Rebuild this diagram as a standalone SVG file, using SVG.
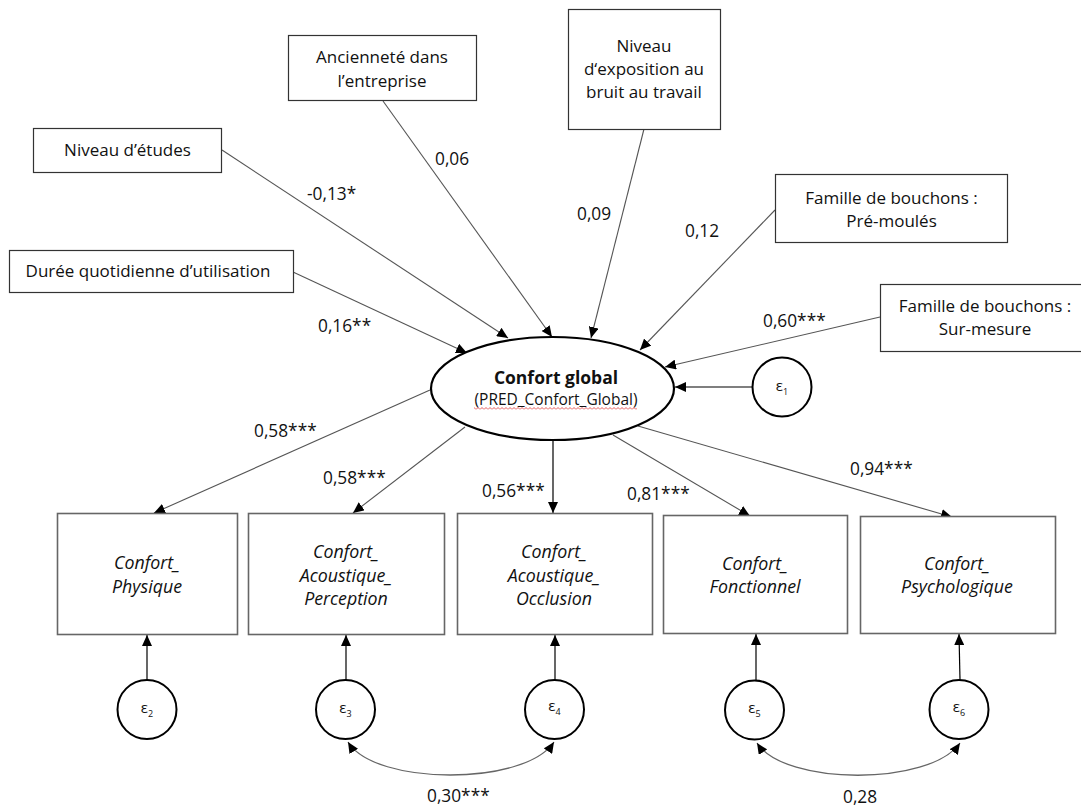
<svg xmlns="http://www.w3.org/2000/svg" width="1081" height="807" viewBox="0 0 1081 807">
<style>
text{font-family:"Open Sans","Noto Sans","Liberation Sans",sans-serif;fill:#111}
.bt{font-size:17px;text-anchor:middle}
.it{font-size:17.8px;text-anchor:middle;font-style:italic}
.lb{font-size:17.3px}
.box{fill:#fff;stroke:#333;stroke-width:1.2}
.obox{fill:#fff;stroke:#666;stroke-width:1.6}
.err{fill:#fff;stroke:#000;stroke-width:2}
.eps{font-size:15px;text-anchor:middle}
.c{fill:none;stroke:#555;stroke-width:1.1;marker-end:url(#ah)}
.v{fill:none;stroke:#000;stroke-width:1.2;marker-end:url(#ah)}
.cv{fill:none;stroke:#666;stroke-width:1.3;marker-end:url(#ah);marker-start:url(#ah)}
</style>
<defs>
<marker id="ah" markerUnits="userSpaceOnUse" markerWidth="12" markerHeight="10" refX="11" refY="5" orient="auto-start-reverse" viewBox="0 0 12 10">
<path d="M0,0 L11,5 L0,10 z" fill="#000"/>
</marker>
<pattern id="wave" patternUnits="userSpaceOnUse" x="0" y="407" width="4" height="3">
<path d="M0,2.5 L2,0.5 L4,2.5" fill="none" stroke="#e03030" stroke-width="0.8"/>
</pattern>
</defs>

<g id="connectors">
<line class="c" x1="293" y1="272" x2="467" y2="353"/>
<line class="c" x1="222" y1="150" x2="508" y2="338"/>
<line class="c" x1="383" y1="101" x2="552" y2="337"/>
<line class="c" x1="644" y1="129" x2="591" y2="338"/>
<line class="c" x1="775" y1="210" x2="640" y2="350"/>
<line class="c" x1="880" y1="317" x2="665" y2="367"/>
<line class="v" x1="752" y1="387" x2="675" y2="387"/>
<line class="c" x1="430" y1="390" x2="154" y2="513"/>
<line class="c" x1="465" y1="427" x2="353" y2="513"/>
<line class="v" x1="553" y1="440" x2="553" y2="513"/>
<line class="c" x1="613" y1="435" x2="750" y2="516"/>
<line class="c" x1="638" y1="426" x2="952" y2="517"/>
<line class="v" x1="147" y1="680" x2="147" y2="635"/>
<line class="v" x1="346" y1="680" x2="346" y2="635"/>
<line class="v" x1="555" y1="680" x2="555" y2="635"/>
<line class="v" x1="756" y1="680" x2="756" y2="634"/>
<line class="v" x1="960" y1="680" x2="959" y2="634"/>
<path class="cv" d="M348,742 C375,786 525,786 554,742"/>
<path class="cv" d="M757,743 C785,786 930,786 960,743"/>
<g id="coef">
<text class="lb" x="307" y="200">-0,13*</text>
<text class="lb" x="435" y="165">0,06</text>
<text class="lb" x="577" y="220">0,09</text>
<text class="lb" x="685" y="237">0,12</text>
<text class="lb" x="318" y="332">0,16**</text>
<text class="lb" x="763" y="327">0,60***</text>
<text class="lb" x="254" y="437">0,58***</text>
<text class="lb" x="323" y="484">0,58***</text>
<text class="lb" x="482" y="497">0,56***</text>
<text class="lb" x="627" y="500">0,81***</text>
<text class="lb" x="850" y="475">0,94***</text>
<text class="lb" x="427" y="802">0,30***</text>
<text class="lb" x="843" y="803">0,28</text>
</g>
</g>

<g id="n-etudes">
<rect class="box" x="33.5" y="128.5" width="188" height="44"/>
<text class="bt" x="127.5" y="156">Niveau d’études</text>
</g>
<g id="n-duree">
<rect class="box" x="9.5" y="250.5" width="284" height="42"/>
<text class="bt" x="148" y="277">Durée quotidienne d’utilisation</text>
</g>
<g id="n-anciennete">
<rect class="box" x="288.5" y="35.5" width="188" height="65"/>
<text class="bt" x="382" y="63">Ancienneté dans</text>
<text class="bt" x="382" y="87">l’entreprise</text>
</g>
<g id="n-exposition">
<rect class="box" x="568.5" y="9.5" width="152" height="120"/>
<text class="bt" x="644" y="52">Niveau</text>
<text class="bt" x="644" y="75">d‘exposition au</text>
<text class="bt" x="644" y="98">bruit au travail</text>
</g>
<g id="n-premoules">
<rect class="box" x="775.5" y="174.5" width="232" height="68"/>
<text class="bt" x="891.5" y="204">Famille de bouchons :</text>
<text class="bt" x="891.5" y="227">Pré-moulés</text>
</g>
<g id="n-surmesure">
<rect class="box" x="880.5" y="284.5" width="210" height="67"/>
<text class="bt" x="985" y="312">Famille de bouchons :</text>
<text class="bt" x="985" y="335">Sur-mesure</text>
</g>

<g id="n-confort-global">
<ellipse cx="552.5" cy="388.5" rx="121.5" ry="51.5" fill="#fff" stroke="#000" stroke-width="2.2"/>
<text x="556" y="384" text-anchor="middle" font-size="17.5" font-weight="bold">Confort global</text>
<text x="556" y="405" text-anchor="middle" font-size="15.5">(PRED_Confort_Global)</text>
<rect x="474" y="407" width="163" height="3" fill="url(#wave)"/>
</g>

<g id="n-e1">
<circle class="err" cx="782" cy="387" r="29.5"/>
<text class="eps" x="782" y="391">ε<tspan font-size="9" dy="4">1</tspan></text>
</g>

<g id="n-physique">
<rect class="obox" x="57.5" y="513.5" width="180" height="121"/>
<text class="it" x="147" y="569">Confort_</text>
<text class="it" x="147" y="593">Physique</text>
</g>
<g id="n-perception">
<rect class="obox" x="248.5" y="513.5" width="196" height="121"/>
<text class="it" x="346" y="558">Confort_</text>
<text class="it" x="346" y="582">Acoustique_</text>
<text class="it" x="346" y="605">Perception</text>
</g>
<g id="n-occlusion">
<rect class="obox" x="457.5" y="513.5" width="195" height="121"/>
<text class="it" x="554" y="558">Confort_</text>
<text class="it" x="554" y="582">Acoustique_</text>
<text class="it" x="554" y="605">Occlusion</text>
</g>
<g id="n-fonctionnel">
<rect class="obox" x="663.5" y="515.5" width="184" height="118"/>
<text class="it" x="755" y="570">Confort_</text>
<text class="it" x="755" y="593">Fonctionnel</text>
</g>
<g id="n-psychologique">
<rect class="obox" x="860.5" y="516.5" width="195" height="117"/>
<text class="it" x="957" y="570">Confort_</text>
<text class="it" x="957" y="593">Psychologique</text>
</g>

<g id="n-e2">
<circle class="err" cx="147" cy="709.5" r="29.5"/>
<text class="eps" x="147" y="713">ε<tspan font-size="9" dy="4">2</tspan></text>
</g>
<g id="n-e3">
<circle class="err" cx="345.5" cy="709.5" r="29.5"/>
<text class="eps" x="345.5" y="713">ε<tspan font-size="9" dy="4">3</tspan></text>
</g>
<g id="n-e4">
<circle class="err" cx="554.5" cy="709.5" r="29.5"/>
<text class="eps" x="554.5" y="711">ε<tspan font-size="9" dy="4">4</tspan></text>
</g>
<g id="n-e5">
<circle class="err" cx="754.5" cy="710" r="29.5"/>
<text class="eps" x="754.5" y="713">ε<tspan font-size="9" dy="4">5</tspan></text>
</g>
<g id="n-e6">
<circle class="err" cx="959" cy="709.5" r="29.5"/>
<text class="eps" x="959" y="712">ε<tspan font-size="9" dy="4">6</tspan></text>
</g>
</svg>
